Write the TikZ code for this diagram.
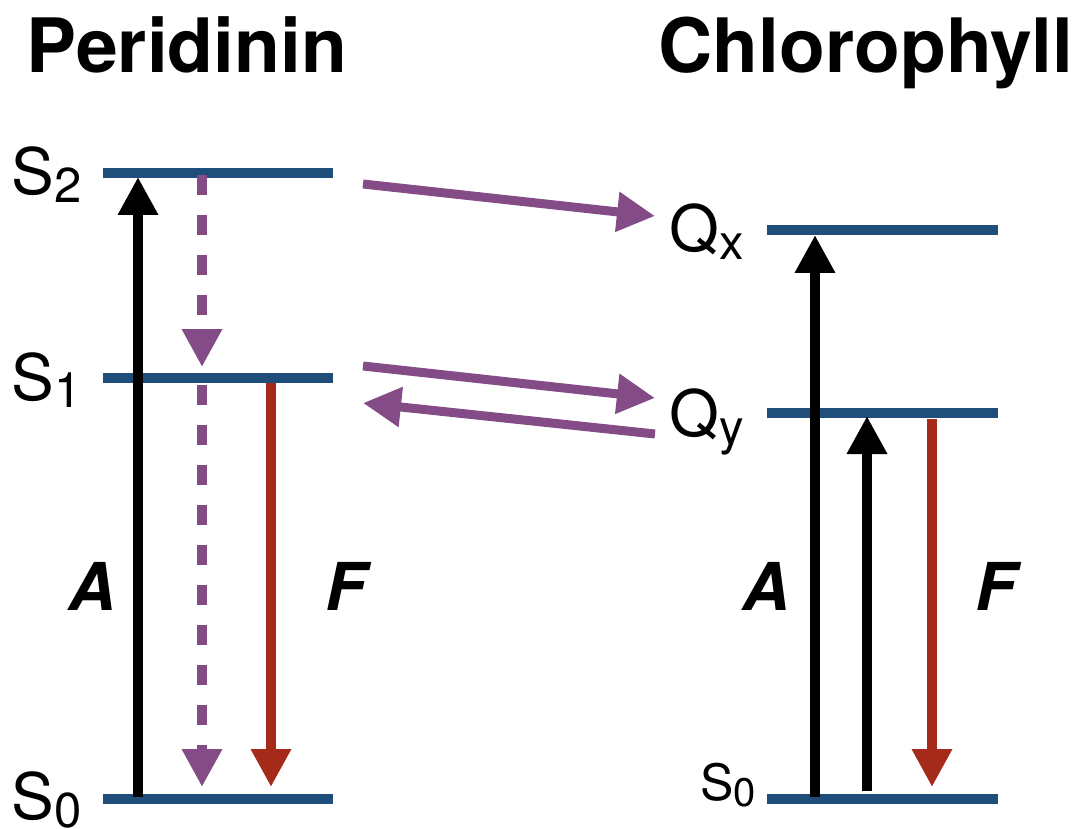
\documentclass[tikz,border=0pt]{standalone}
\usepackage{fontspec}
\setmainfont{TeX Gyre Heros}
\usetikzlibrary{arrows.meta}
\definecolor{lvlblue}{RGB}{31,78,122}
\definecolor{pur}{RGB}{131,76,135}
\definecolor{rd}{RGB}{166,42,26}
\newcommand{\lbl}[2]{#1\raisebox{-4pt}{\fontsize{24.5}{26}\selectfont #2}}
\newcommand{\lbls}[2]{#1\raisebox{-3pt}{\fontsize{20}{21}\selectfont #2}}
\tikzset{
  level/.style={draw=lvlblue, line width=5pt},
  headtip/.style={-{Triangle[length=19pt,width=19pt]}},
  blackarr/.style={headtip, draw=black, line width=5pt},
  redarr/.style={headtip, draw=rd, line width=5pt},
  dasharr/.style={headtip, draw=pur, line width=5pt, dash pattern=on 10pt off 10pt},
  purarr/.style={headtip, draw=pur, line width=4.5pt},
  title/.style={anchor=base, inner sep=0pt, font=\fontsize{37.5}{40}\selectfont\bfseries},
  statelbl/.style={anchor=base west, inner sep=0pt, font=\fontsize{32}{34}\selectfont},
  smalllbl/.style={anchor=base west, inner sep=0pt, font=\fontsize{25}{27}\selectfont},
  procl/.style={anchor=base, inner sep=0pt, font=\fontsize{33}{34}\selectfont\bfseries\itshape}
}
\begin{document}
\begin{tikzpicture}[x=0.5pt,y=-0.5pt]
\useasboundingbox (0,0) rectangle (1083,829);
% titles
\node[title] (tP) at (187,73) {Peridinin};
\node[title] (tC) at (866,73) {Chlorophyll};
% level coordinates
\coordinate (S2a) at (103,173); \coordinate (S2b) at (333,173);
\coordinate (S1a) at (103,378); \coordinate (S1b) at (333,378);
\coordinate (S0a) at (103,799); \coordinate (S0b) at (333,799);
\coordinate (Qxa) at (767,230); \coordinate (Qxb) at (998,230);
\coordinate (Qya) at (767,413); \coordinate (Qyb) at (998,413);
\coordinate (R0a) at (767,799); \coordinate (R0b) at (998,799);
\draw[level] (S2a) -- (S2b);
\draw[level] (S1a) -- (S1b);
\draw[level] (S0a) -- (S0b);
\draw[level] (Qxa) -- (Qxb);
\draw[level] (Qya) -- (Qyb);
\draw[level] (R0a) -- (R0b);
% state labels
\node[statelbl] (lS2) at (11,195) {\lbl{S}{2}};
\node[statelbl] (lS1) at (11,400) {\lbl{S}{1}};
\node[statelbl] (lS0) at (11,819) {\lbl{S}{0}};
\node[statelbl] (lQx) at (669,251) {\lbl{Q}{x}};
\node[statelbl] (lQy) at (669,436) {\lbl{Q}{y}};
\node[smalllbl] (lR0) at (700,800) {\lbls{S}{0}};
% process labels
\node[procl] (A1) at (92,610) {A};
\node[procl] (F1) at (346,610) {F};
\node[procl] (A2) at (766,610) {A};
\node[procl] (F2) at (996,610) {F};
% left vertical arrows
\coordinate (a1s) at (138,797); \coordinate (a1e) at (138,177);
\draw[blackarr] (a1s) -- (a1e);
\coordinate (d1s) at (202,175); \coordinate (d1e) at (202,367);
\draw[dasharr] (d1s) -- (d1e);
\coordinate (d2s) at (202,385); \coordinate (d2e) at (202,787);
\draw[dasharr] (d2s) -- (d2e);
\coordinate (r1s) at (271,383); \coordinate (r1e) at (271,787);
\draw[redarr] (r1s) -- (r1e);
% right vertical arrows
\coordinate (a2s) at (815,797); \coordinate (a2e) at (815,235);
\draw[blackarr] (a2s) -- (a2e);
\coordinate (a3s) at (867,791); \coordinate (a3e) at (867,416);
\draw[blackarr] (a3s) -- (a3e);
\coordinate (r2s) at (932,419); \coordinate (r2e) at (932,787);
\draw[redarr] (r2s) -- (r2e);
% transfer arrows
\coordinate (t1s) at (363,184); \coordinate (t1e) at (655,216);
\draw[purarr] (t1s) -- (t1e);
\coordinate (t2s) at (363,366); \coordinate (t2e) at (655,398);
\draw[purarr] (t2s) -- (t2e);
\coordinate (t3s) at (655,434); \coordinate (t3e) at (363,403);
\draw[purarr] (t3s) -- (t3e);
\end{tikzpicture}
\end{document}
